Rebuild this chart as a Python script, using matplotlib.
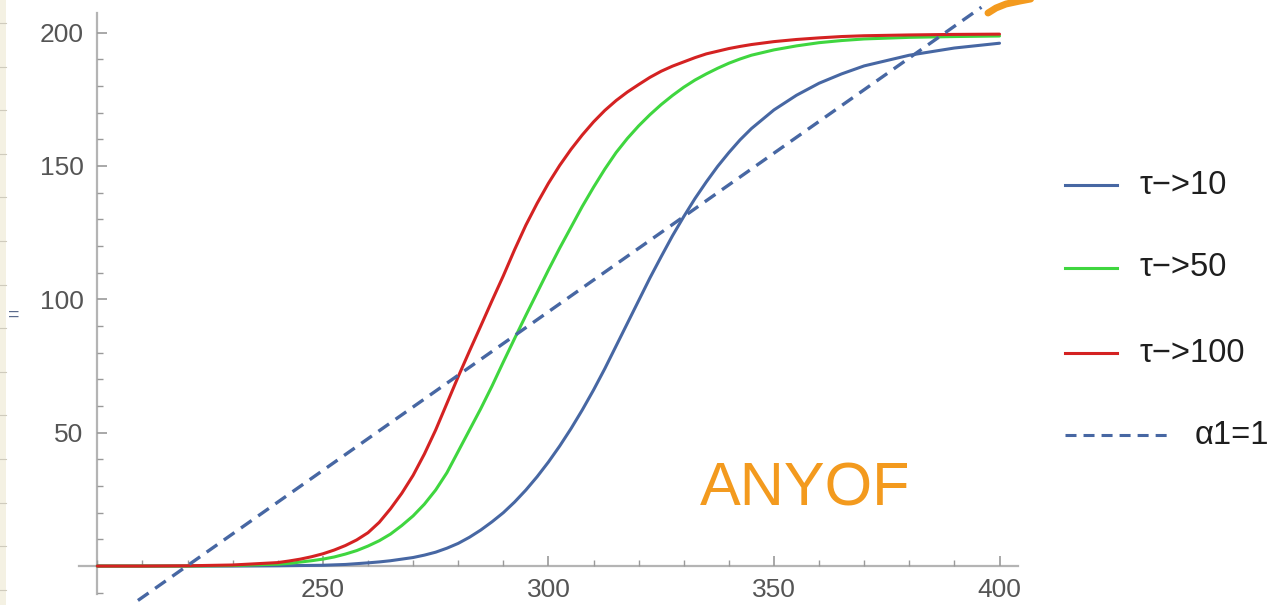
import matplotlib
matplotlib.use("Agg")
import matplotlib.pyplot as plt
from matplotlib.lines import Line2D
from matplotlib.patches import Rectangle

plt.rcParams['font.family'] = ['Liberation Sans', 'DejaVu Sans']

# values
x = [200, 210, 220, 230,
     240, 242.5, 245, 247.5, 250, 252.5, 255, 257.5, 260, 262.5, 265, 267.5, 270, 272.5,
     275, 277.5, 280, 282.5, 285, 287.5, 290, 292.5, 295, 297.5, 300, 302.5, 305, 307.5,
     310, 312.5, 315, 317.5, 320, 322.5, 325, 327.5, 330, 332.5, 335, 337.5, 340, 342.5,
     345, 350, 355, 360, 365, 370, 380, 390, 400]
tau10 = [0, 0, 0, 0,
         0.1, 0.15, 0.2, 0.25, 0.3, 0.45, 0.6, 0.9, 1.2, 1.55, 2.0, 2.6, 3.2, 4.1,
         5.2, 6.7, 8.5, 10.8, 13.5, 16.6, 20, 24, 28.5, 33.5, 39, 45, 51.5, 58.5,
         66, 74, 82.5, 91, 99.5, 108, 116, 123.8, 131, 137.8, 144, 149.8, 155, 159.8,
         164, 171, 176.5, 181, 184.5, 187.5, 191.5, 194.2, 196]
tau50 = [0, 0, 0, 0.2,
         0.7, 1.0, 1.5, 2.0, 2.6, 3.4, 4.5, 5.8, 7.5, 9.5, 12, 15.2, 18.8, 23.2,
         28.5, 35, 43, 51, 59, 67.5, 76.5, 85.3, 94, 102.5, 111, 119.2, 127, 134.8,
         142, 148.8, 155, 160.3, 165, 169.2, 173, 176.4, 179.5, 182.2, 184.5, 186.6, 188.5, 190.1,
         191.5, 193.5, 195, 196.2, 197, 197.6, 198.2, 198.5, 198.7]
tau100 = [0, 0, 0.1, 0.4,
          1.3, 1.9, 2.6, 3.5, 4.6, 6.0, 7.7, 9.8, 12.5, 16.4, 21.5, 27.3, 34, 42,
          51, 61, 71, 80.6, 90, 99.5, 108.8, 118.6, 127.8, 136, 143.5, 150.2, 156.2, 161.6,
          166.5, 170.8, 174.5, 177.7, 180.5, 183.2, 185.5, 187.4, 189, 190.6, 192, 193, 194, 194.8,
          195.5, 196.6, 197.4, 198, 198.5, 198.8, 199.1, 199.3, 199.4]
alpha_x = [209, 396]
alpha_y = [-12.9, 209.5]

labels = ['τ−>10', 'τ−>50', 'τ−>100', 'α1=1']
xticks = [250, 300, 350, 400]
yticks = [50, 100, 150, 200]

blue = '#4767a3'
green = '#3fd63f'
red = '#d42222'
grey_axis = '#b4b4b4'

W, H = 1282, 605
fig = plt.figure(figsize=(W / 100, H / 100), dpi=100)
ax = fig.add_axes([79.3 / W, 12 / H, 938.7 / W, 593 / H])
ax.set_xlim(196, 404.1)
ax.set_ylim(-10.1, 212.2)

kw = dict(lw=2.2, solid_joinstyle='round', solid_capstyle='round')
ax.plot(x, tau10, color=blue, **kw)
ax.plot(x, tau50, color=green, **kw)
ax.plot(x, tau100, color=red, **kw)
ax.plot(alpha_x, alpha_y, color=blue, lw=2.4, ls=(0, (3.9, 2.4)), clip_on=False)

# Mathematica style axes crossing at (200, 0)
for s in ['top', 'right']:
    ax.spines[s].set_visible(False)
ax.spines['left'].set_position(('data', 200))
ax.spines['bottom'].set_position(('data', 0))
ax.spines['left'].set_bounds(-10.5, 207.5)
ax.spines['bottom'].set_bounds(196, 404)
for s in ['left', 'bottom']:
    ax.spines[s].set_color(grey_axis)
    ax.spines[s].set_linewidth(1.6)
    ax.spines[s].set_zorder(0.5)

ax.set_xticks(xticks)
ax.set_yticks(yticks)
ax.set_xticks(list(range(200, 401, 10)), minor=True)
ax.set_yticks(list(range(-10, 201, 10)), minor=True)
ax.tick_params(which='both', direction='in', color='#9a9a9a', labelcolor='#555555',
               labelsize=19)
ax.tick_params(which='major', length=7, width=1.2)
ax.tick_params(which='minor', length=4, width=1.0)
ax.tick_params(axis='x', pad=8.5)
ax.tick_params(axis='y', pad=10)

# legend on the right
fx = lambda px: px / W
fy = lambda py: 1 - py / H
rows = [(185, blue, '-'), (268, green, '-'), (353, red, '-'), (435, blue, (0, (3.6, 2.3)))]
for (py, col, ls), lab in zip(rows, labels):
    x1 = 1168 if lab.startswith('α') else 1117
    tx = 1195 if lab.startswith('α') else 1140
    fig.add_artist(Line2D([fx(1065), fx(x1)], [fy(py), fy(py)], transform=fig.transFigure,
                          color=col, lw=2.2, ls=ls))
    fig.text(fx(tx), fy(py), lab, fontsize=23.5, color='#1e1e1e', ha='left', va='center')

# handwritten note
fig.text(fx(700), fy(490), 'ANYOF', fontsize=44, color='#f39a1e', ha='left', va='center')
fig.add_artist(Line2D([fx(p) for p in [988, 996, 1006, 1020, 1036]],
                      [fy(p) for p in [13, 8, 4, 1, -2]], transform=fig.transFigure,
                      color='#f39a1e', lw=5, solid_capstyle='round'))

# left notebook strip
fig.add_artist(Rectangle((0, 0), fx(6), 1, transform=fig.transFigure,
                         facecolor='#f4f1e3', edgecolor='none'))
py = 23
while py < H:
    fig.add_artist(Line2D([0, fx(6)], [fy(py), fy(py)], transform=fig.transFigure,
                          color='#cfcbbd', lw=0.8))
    py += 43.6
fig.text(fx(14), fy(315), '=', fontsize=14, color='#5b6b8c', ha='center', va='center')

fig.savefig('out.png', dpi=100)
